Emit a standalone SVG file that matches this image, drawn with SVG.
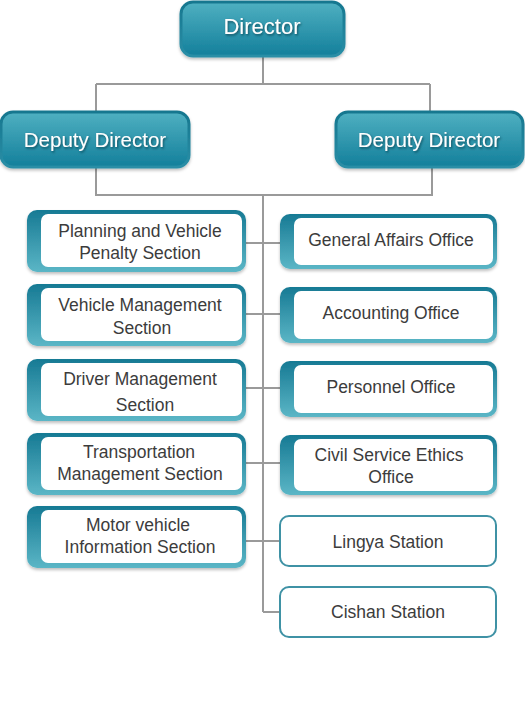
<svg xmlns="http://www.w3.org/2000/svg" width="525" height="715" viewBox="0 0 525 715">
<defs>
<linearGradient id="gHead" x1="0" y1="0" x2="0" y2="1">
<stop offset="0" stop-color="#4fb0c1"/>
<stop offset="1" stop-color="#137f9b"/>
</linearGradient>
<linearGradient id="gBorder" x1="0" y1="0" x2="0" y2="1">
<stop offset="0" stop-color="#16778f"/>
<stop offset="1" stop-color="#2a8ea6"/>
</linearGradient>
<linearGradient id="gBox" x1="0" y1="0" x2="0" y2="1">
<stop offset="0" stop-color="#177a94"/>
<stop offset="1" stop-color="#5bb6c6"/>
</linearGradient>
<filter id="sh" x="-10%" y="-10%" width="120%" height="130%">
<feDropShadow dx="0" dy="2" stdDeviation="1.5" flood-color="#000" flood-opacity="0.25"/>
</filter>
<filter id="tsh" x="-10%" y="-20%" width="120%" height="150%">
<feDropShadow dx="1" dy="1.5" stdDeviation="0.8" flood-color="#0a3f4e" flood-opacity="0.8"/>
</filter>
</defs>
<style>
.head{fill:url(#gHead);stroke:url(#gBorder);stroke-width:3;filter:url(#sh)}
.ht{font-family:"Liberation Sans",Arial,sans-serif;fill:#fff;text-anchor:middle;filter:url(#tsh)}
.bo{fill:url(#gBox);filter:url(#sh)}
.bi{fill:#fff}
.pl{fill:#fff;stroke:#3f92a5;stroke-width:2}
.t{font-family:"Liberation Sans",Arial,sans-serif;font-size:17.5px;fill:#3c3c3c;text-anchor:middle}
.ln{stroke:#9a9a9a;stroke-width:2;fill:none}
</style>
<rect width="525" height="715" fill="#fff"/>
<g id="connectors">
<path class="ln" d="M263 57V84M96 84H430M96 84V112M430 84V112"/>
<path class="ln" d="M96 168V195H432V168M263 195V612"/>
<path class="ln" d="M246 243H280M246 314H280M246 388H280M246 463H280M246 541H280M263 612H280"/>
</g>
<g id="director">
<rect class="head" x="181" y="2" width="163" height="54" rx="12"/>
<text class="ht" x="262" y="34" font-size="22">Director</text>
</g>
<g id="deputy-left">
<rect class="head" x="1" y="112" width="188" height="55" rx="12"/>
<text class="ht" x="95" y="147" font-size="20.5">Deputy Director</text>
</g>
<g id="deputy-right">
<rect class="head" x="336" y="112" width="187" height="55" rx="12"/>
<text class="ht" x="429" y="147" font-size="20.5">Deputy Director</text>
</g>
<g id="planning">
<rect class="bo" x="27" y="210" width="219" height="62" rx="10"/>
<rect class="bi" x="41" y="214" width="201" height="53" rx="7"/>
<text class="t" x="140" y="237">Planning and Vehicle</text>
<text class="t" x="140" y="259">Penalty Section</text>
</g>
<g id="vehicle-mgmt">
<rect class="bo" x="27" y="284" width="219" height="62" rx="10"/>
<rect class="bi" x="41" y="288" width="201" height="53" rx="7"/>
<text class="t" x="140" y="311">Vehicle Management</text>
<text class="t" x="142" y="334">Section</text>
</g>
<g id="driver-mgmt">
<rect class="bo" x="27" y="359" width="219" height="62" rx="10"/>
<rect class="bi" x="41" y="363" width="201" height="53" rx="7"/>
<text class="t" x="140" y="385">Driver Management</text>
<text class="t" x="145" y="411">Section</text>
</g>
<g id="transport-mgmt">
<rect class="bo" x="27" y="433" width="219" height="62" rx="10"/>
<rect class="bi" x="41" y="437" width="201" height="53" rx="7"/>
<text class="t" x="139" y="458">Transportation</text>
<text class="t" x="140" y="480">Management Section</text>
</g>
<g id="motor-info">
<rect class="bo" x="27" y="506" width="219" height="62" rx="10"/>
<rect class="bi" x="41" y="510" width="201" height="53" rx="7"/>
<text class="t" x="138" y="531">Motor vehicle</text>
<text class="t" x="140" y="553">Information Section</text>
</g>
<g id="general-affairs">
<rect class="bo" x="280" y="214" width="217" height="55" rx="10"/>
<rect class="bi" x="294" y="218" width="199" height="47" rx="7"/>
<text class="t" x="391" y="246">General Affairs Office</text>
</g>
<g id="accounting">
<rect class="bo" x="280" y="287" width="217" height="56" rx="10"/>
<rect class="bi" x="294" y="291" width="199" height="48" rx="7"/>
<text class="t" x="391" y="319">Accounting Office</text>
</g>
<g id="personnel">
<rect class="bo" x="280" y="361" width="217" height="56" rx="10"/>
<rect class="bi" x="294" y="365" width="199" height="48" rx="7"/>
<text class="t" x="391" y="393">Personnel Office</text>
</g>
<g id="civil-service">
<rect class="bo" x="280" y="435" width="217" height="60" rx="10"/>
<rect class="bi" x="294" y="439" width="199" height="52" rx="7"/>
<text class="t" x="389" y="461">Civil Service Ethics</text>
<text class="t" x="391" y="483">Office</text>
</g>
<g id="lingya">
<rect class="pl" x="280" y="516" width="216" height="50" rx="9"/>
<text class="t" x="388" y="548">Lingya Station</text>
</g>
<g id="cishan">
<rect class="pl" x="280" y="587" width="216" height="50" rx="9"/>
<text class="t" x="388" y="618">Cishan Station</text>
</g>
</svg>
